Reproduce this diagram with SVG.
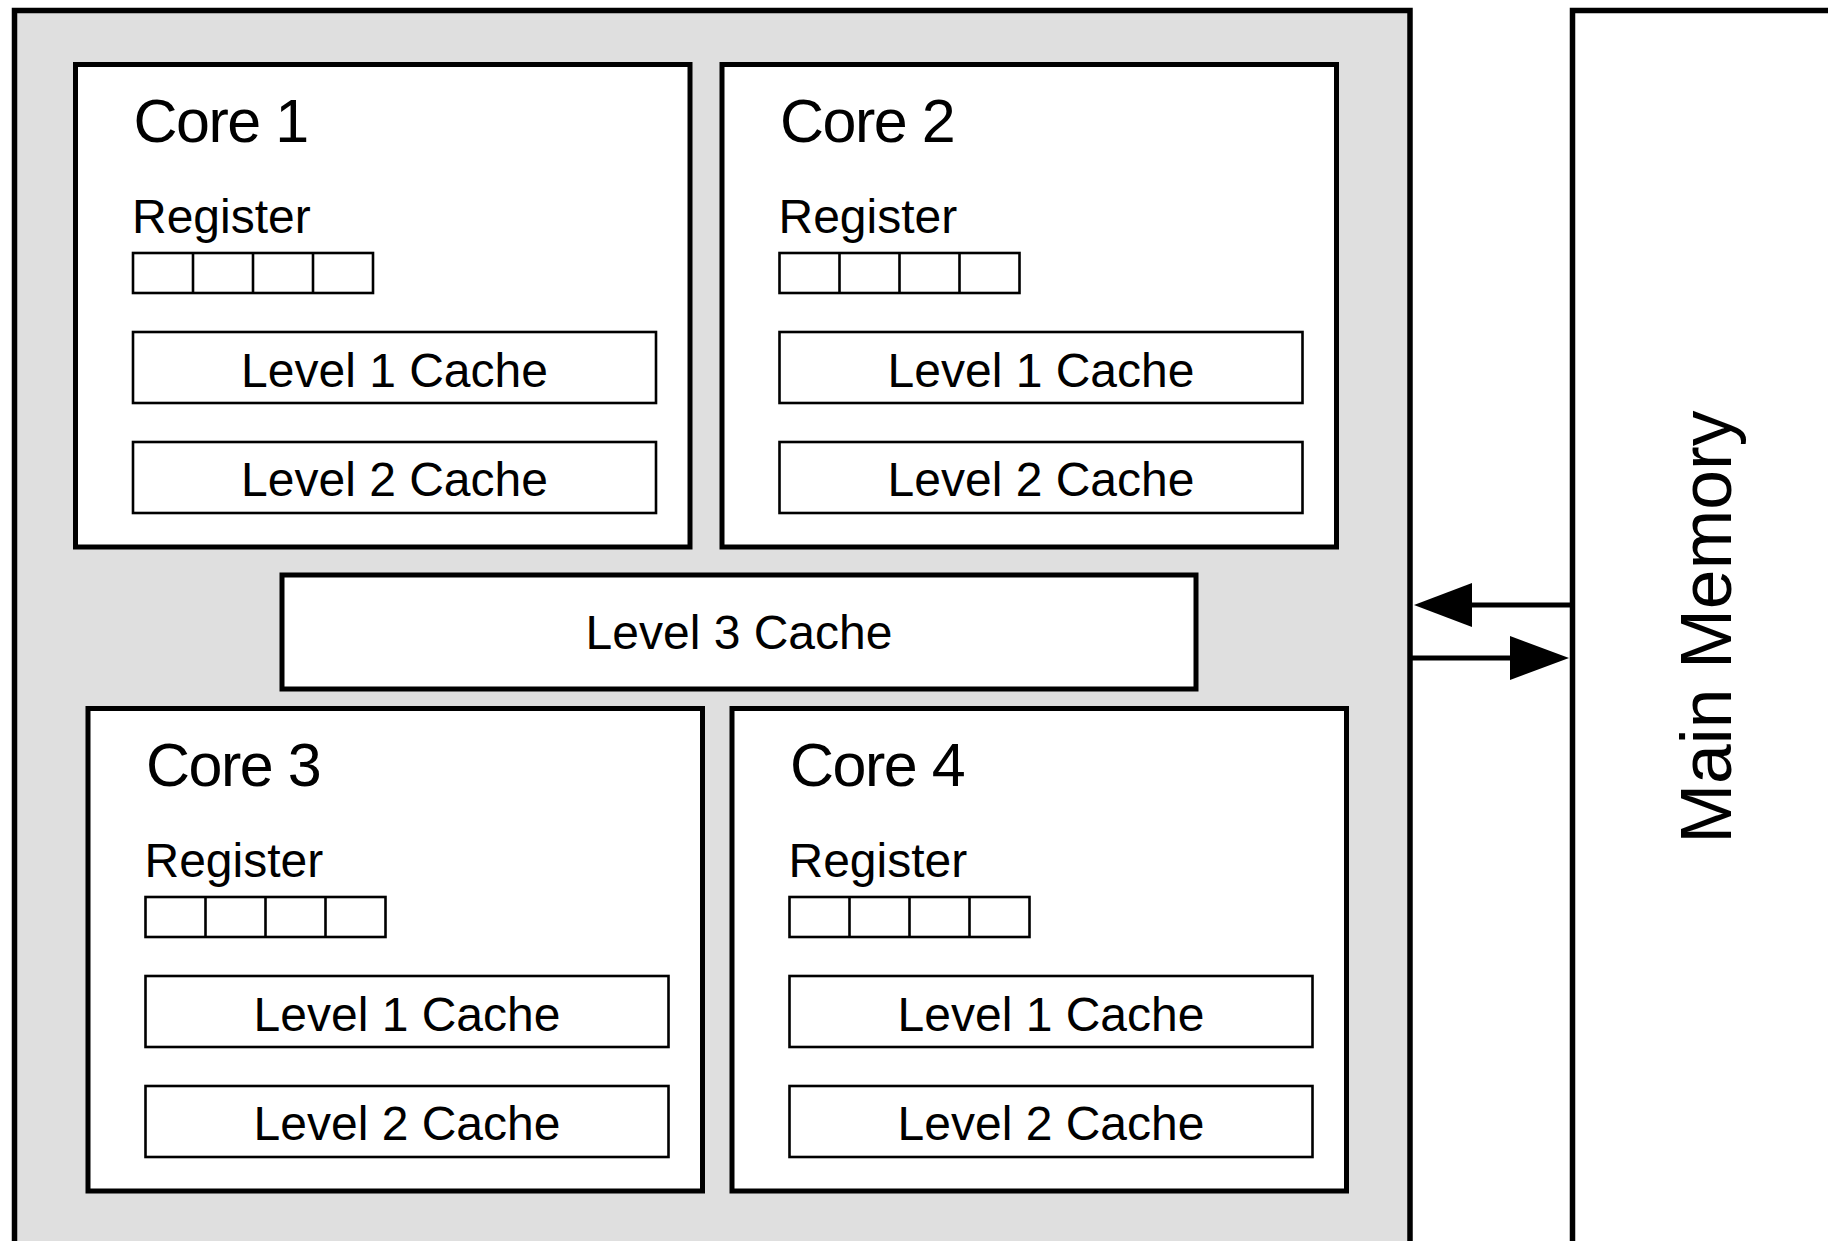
<svg xmlns="http://www.w3.org/2000/svg" width="1828" height="1241" viewBox="0 0 1828 1241">
  <defs>
    <style>
      .chip { fill: #dfdfdf; stroke: #000; stroke-width: 5.5; }
      .mem { fill: #fff; stroke: #000; stroke-width: 5.5; }
      .core { fill: #fff; stroke: #000; stroke-width: 5; }
      .unit { fill: #fff; stroke: #000; stroke-width: 2.6; }
      .cell { fill: none; stroke: #000; stroke-width: 2.6; }
      .title { font-family: "Liberation Sans", Arial, sans-serif; font-size: 61px; letter-spacing: -1.5px; fill: #000; }
      .label { font-family: "Liberation Sans", Arial, sans-serif; font-size: 48px; fill: #000; }
      .mid { text-anchor: middle; }
      .big { font-family: "Liberation Sans", Arial, sans-serif; font-size: 71.5px; fill: #000; text-anchor: middle; }
      .link { stroke: #000; stroke-width: 5; fill: none; }
      .head { fill: #000; }
    </style>
    <!-- One core: box, register strip, L1 and L2 caches -->
    <g id="core-body">
      <rect class="core" x="0" y="0" width="614.5" height="482.5"/>
      <text class="label" x="56.5" y="168.5">Register</text>
      <rect class="cell" x="57.5" y="188.5" width="240" height="40"/>
      <path class="cell" d="M117.5 188.5V228.5M177.5 188.5V228.5M237.5 188.5V228.5"/>
      <rect class="unit" x="57.5" y="267.5" width="523" height="71"/>
      <text class="label mid" x="319" y="322.5">Level 1 Cache</text>
      <rect class="unit" x="57.5" y="377.5" width="523" height="71"/>
      <text class="label mid" x="319" y="431.5">Level 2 Cache</text>
    </g>
  </defs>

  <!-- Processor package -->
  <g id="processor">
    <rect class="chip" x="14.5" y="10.5" width="1395.5" height="1260"/>
  </g>

  <!-- Main memory -->
  <g id="main-memory">
    <rect class="mem" x="1572.5" y="10.5" width="300" height="1260"/>
    <text class="big" transform="translate(1731 627) rotate(-90)" x="0" y="0">Main Memory</text>
  </g>

  <g id="core-1" transform="translate(75.5 64.5)">
    <use href="#core-body"/>
    <text class="title" x="58" y="77.5">Core 1</text>
  </g>

  <g id="core-2" transform="translate(722 64.5)">
    <use href="#core-body"/>
    <text class="title" x="58" y="77.5">Core 2</text>
  </g>

  <g id="level-3-cache">
    <rect class="core" x="282" y="575" width="914" height="114"/>
    <text class="label mid" x="739" y="649">Level 3 Cache</text>
  </g>

  <g id="core-3" transform="translate(88 708.5)">
    <use href="#core-body"/>
    <text class="title" x="58" y="77.5">Core 3</text>
  </g>

  <g id="core-4" transform="translate(732 708.5)">
    <use href="#core-body"/>
    <text class="title" x="58" y="77.5">Core 4</text>
  </g>

  <!-- Memory bus: read and write paths -->
  <g id="connectors">
    <line class="link" x1="1572" y1="605" x2="1470" y2="605"/>
    <polygon class="head" points="1414,605 1472,583 1472,627"/>
    <line class="link" x1="1410" y1="658" x2="1512" y2="658"/>
    <polygon class="head" points="1569,658 1510,636 1510,680"/>
  </g>
</svg>
